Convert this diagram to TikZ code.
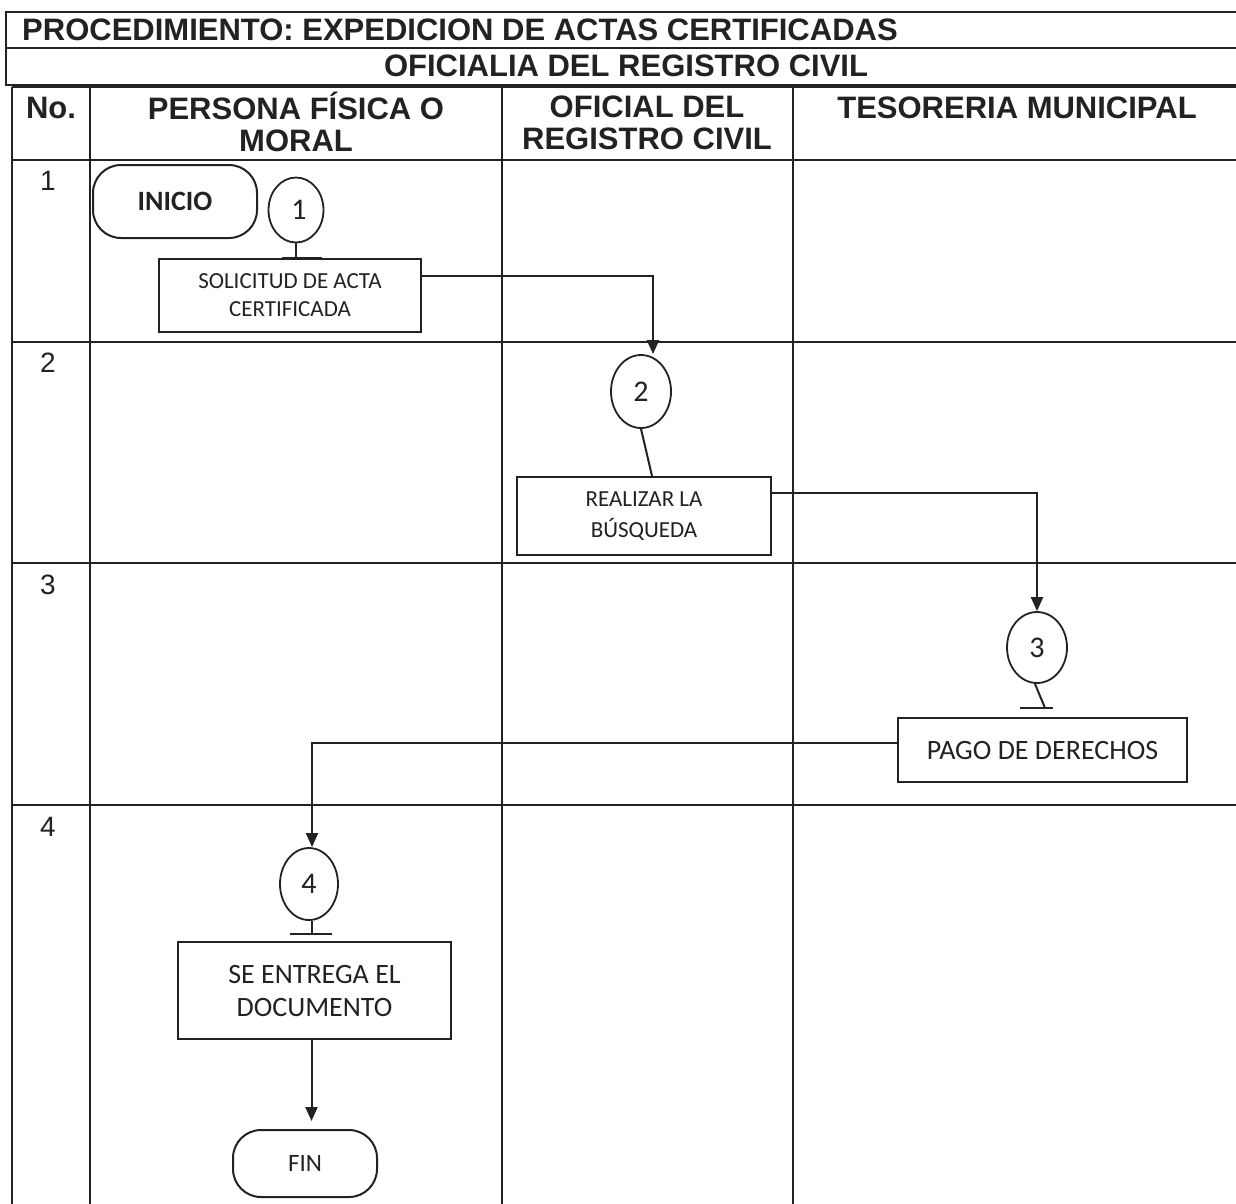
\documentclass[tikz,border=0pt]{standalone}
\usepackage{fontspec}
\setmainfont{Liberation Sans}
\newfontfamily\calibri{Carlito}
\usetikzlibrary{shapes.geometric,arrows.meta}
\definecolor{ink}{HTML}{222222}

\begin{document}
\begin{tikzpicture}[x=1pt,y=-1pt,
  rule/.style={draw=ink,line width=2.2pt},
  title/.style={font=\fontsize{31}{32}\selectfont\bfseries,text=ink,inner sep=0pt,align=center},
  rownum/.style={font=\fontsize{28}{30}\selectfont,text=ink,inner sep=0pt},
  terminal/.style={draw=ink,line width=2pt,rounded corners=28pt,text=ink,inner sep=0pt},
  conn/.style={ellipse,draw=ink,line width=1.8pt,inner sep=0pt,text=ink,
    font=\calibri\fontsize{30}{32}\selectfont},
  process/.style={rectangle,draw=ink,line width=2pt,inner sep=0pt,text=ink,align=center},
  flow/.style={draw=ink,line width=2pt,-{Triangle[length=14pt,width=12pt]}},
  stem/.style={draw=ink,line width=2pt},
  tbar/.style={draw=ink,line width=2.4pt}
]
\useasboundingbox (0,0) rectangle (1236,1203);
\fill[white] (0,0) rectangle (1236,1203);
\clip (0,0) rectangle (1236,1203);

% title block
\draw[rule] (6,12) rectangle (1250,85);
\draw[rule] (6,48) -- (1250,48);
\node[title,anchor=west] (proc) at (22,30) {PROCEDIMIENTO: EXPEDICION DE ACTAS CERTIFICADAS};
\node[title] (ofic) at (626,66) {OFICIALIA DEL REGISTRO CIVIL};

% swimlane grid
\foreach \x in {12,90,502,793} \draw[rule] (\x,87) -- (\x,1215);
\foreach \y in {87,160,342,563,805} \draw[rule] (12,\y) -- (1250,\y);

% lane headers
\node[title] (hno) at (51,108) {No.};
\node[title] (hper) at (296,122) {PERSONA FÍSICA O\\MORAL};
\node[title] (hofi) at (647,123) {OFICIAL DEL\\REGISTRO CIVIL};
\node[title] (htes) at (1017,108) {TESORERIA MUNICIPAL};

% step numbers
\node[rownum] (n1) at (48,181) {1};
\node[rownum] (n2) at (48,363) {2};
\node[rownum] (n3) at (48,585) {3};
\node[rownum] (n4) at (48,827) {4};

% flow shapes
\node[terminal,minimum width=164pt,minimum height=73pt,
  font=\calibri\bfseries\fontsize{28}{30}\selectfont] (inicio) at (175,201.5) {INICIO};
\node[conn,minimum width=55pt,minimum height=65pt] (c1) at (296,210) {\hspace{6pt}1};
\node[process,minimum width=262pt,minimum height=73pt,
  font=\calibri\fontsize{23}{28}\selectfont] (solicitud) at (290,295.5)
  {SOLICITUD DE ACTA\\CERTIFICADA};

\node[conn,minimum width=60pt,minimum height=73pt] (c2) at (641,391.5) {2};
\node[process,minimum width=254pt,minimum height=78pt,
  font=\calibri\fontsize{23}{31}\selectfont] (realizar) at (644,516)
  {REALIZAR LA\\BÚSQUEDA};

\node[conn,minimum width=60pt,minimum height=71pt] (c3) at (1037,647.5) {3};
\node[process,minimum width=289pt,minimum height=64pt,
  font=\calibri\fontsize{28}{30}\selectfont] (pago) at (1042.5,750) {PAGO DE DERECHOS};

\node[conn,minimum width=58pt,minimum height=72pt] (c4) at (309,884) {4};
\node[process,minimum width=273pt,minimum height=97pt,
  font=\calibri\fontsize{28}{33}\selectfont] (entrega) at (314.5,990.5)
  {SE ENTREGA EL\\DOCUMENTO};
\node[terminal,minimum width=144pt,minimum height=67pt,
  font=\calibri\fontsize{25}{27}\selectfont] (fin) at (305,1163.5) {FIN};

% connector stems with their bars
\coordinate (b1) at (c1.south |- solicitud.north);
\draw[stem] (c1.south) -- (b1);
\draw[tbar] ([xshift=-14pt]b1) -- ([xshift=26pt]b1);

\draw[stem] (c2.south) -- ([xshift=8pt]realizar.north);

\coordinate (b3) at (1045,708);
\draw[stem] ([xshift=-2pt]c3.south) -- (b3);
\draw[tbar] ([xshift=-25pt]b3) -- ([xshift=8pt]b3);

\coordinate (b4) at ([xshift=3pt]c4.south |- 0,934);
\draw[stem] ([xshift=3pt]c4.south) -- (b4);
\draw[tbar] ([xshift=-22pt]b4) -- ([xshift=20pt]b4);

% flow arrows
\draw[flow] ([yshift=20pt]solicitud.east) -| ([xshift=12pt]c2.north);
\draw[flow] ([yshift=23pt]realizar.east) -| (c3.north);
\draw[flow] ([yshift=7pt]pago.west) -| ([xshift=3pt]c4.north);
\draw[flow] ([xshift=-3pt]entrega.south) -- ([xshift=-3pt,yshift=8pt]entrega.south |- fin.north);
\end{tikzpicture}
\end{document}
